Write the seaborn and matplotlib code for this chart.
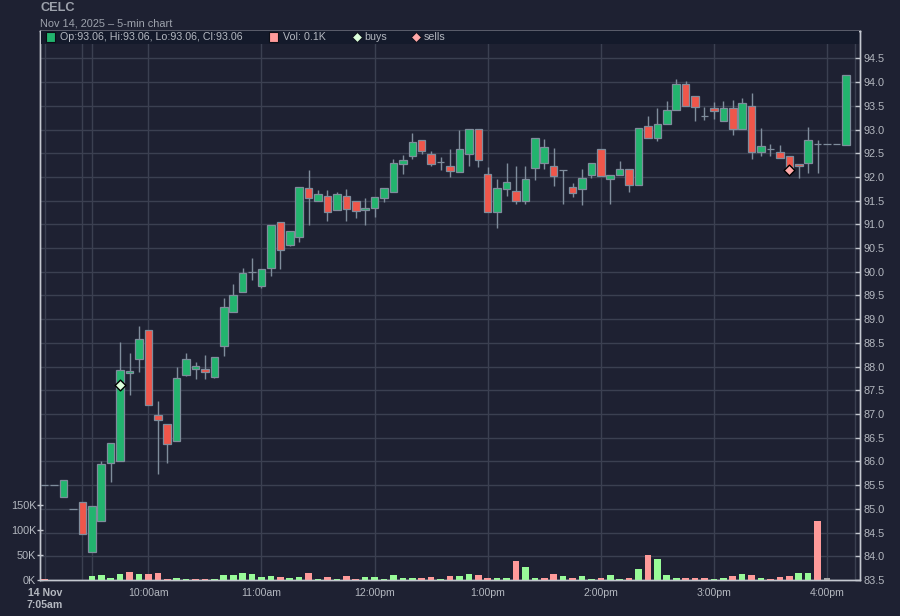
import numpy as np
import pandas as pd
import matplotlib
matplotlib.use("Agg")
import matplotlib.pyplot as plt
import seaborn as sns
from matplotlib.patches import Rectangle
from matplotlib.lines import Line2D

# ---------------- data ----------------
ticker = "CELC"
subtitle = "Nov 14, 2025 \u2013 5-min chart"
legend_ohlc = "Op:93.06, Hi:93.06, Lo:93.06, Cl:93.06"
legend_vol = "Vol: 0.1K"

opens = [85.50, 85.50, 85.24, 85.00, 85.14, 84.10, 84.74, 85.96, 86.02, 87.86,
         88.17, 88.78, 86.99, 86.78, 86.44, 87.83, 87.94, 87.95, 87.78, 88.44,
         89.15, 89.58, 90.00, 89.70, 90.08, 91.06, 90.57, 90.74, 91.76, 91.50,
         91.59, 91.30, 91.59, 91.50, 91.30, 91.35, 91.56, 91.68, 92.27, 92.44,
         92.77, 92.49, 92.31, 92.24, 92.10, 92.48, 93.02, 92.07, 91.25, 91.75,
         91.70, 91.50, 92.18, 92.30, 92.24, 92.14, 91.79, 91.75, 92.05, 92.58,
         91.96, 92.05, 92.16, 91.84, 93.08, 92.83, 93.12, 93.42, 93.95, 93.71,
         93.29, 93.46, 93.18, 93.46, 93.02, 93.50, 92.53, 92.58, 92.53, 92.45,
         92.28, 92.30, 92.70, 92.70, 92.70, 92.68]
highs = [85.50, 85.50, 85.60, 85.00, 85.14, 85.05, 86.01, 86.38, 88.52, 88.29,
         88.85, 88.78, 87.27, 86.78, 87.99, 88.28, 88.09, 88.24, 88.21, 89.44,
         89.74, 90.07, 90.29, 90.05, 90.99, 91.06, 90.87, 91.78, 92.14, 91.72,
         91.72, 91.68, 91.74, 91.50, 91.55, 91.57, 91.76, 92.37, 92.46, 92.92,
         92.77, 92.55, 92.43, 92.58, 93.00, 93.02, 93.02, 92.21, 91.95, 92.29,
         92.22, 92.22, 92.83, 92.79, 92.60, 92.15, 91.87, 92.16, 92.30, 92.58,
         92.04, 92.33, 92.16, 93.04, 93.29, 93.46, 93.61, 94.06, 94.03, 93.71,
         93.48, 93.59, 93.61, 93.63, 93.67, 93.76, 93.04, 92.70, 92.68, 92.45,
         92.28, 93.06, 92.77, 92.70, 92.70, 94.14]
lows = [85.50, 85.50, 85.24, 85.00, 84.48, 84.10, 84.74, 85.57, 86.02, 87.40,
        87.89, 87.18, 85.73, 85.96, 86.44, 87.80, 87.74, 87.74, 87.76, 88.23,
        89.15, 89.58, 89.82, 89.65, 89.91, 90.05, 90.55, 90.63, 90.98, 91.50,
        91.07, 91.30, 91.07, 91.14, 90.99, 91.16, 91.47, 91.68, 92.06, 92.38,
        92.48, 92.24, 92.14, 91.99, 92.10, 92.23, 92.21, 91.25, 90.92, 91.60,
        91.43, 91.43, 91.94, 92.17, 91.81, 91.43, 91.57, 91.41, 91.98, 92.01,
        91.43, 92.05, 91.69, 91.84, 92.83, 92.76, 93.12, 93.42, 93.50, 93.18,
        93.21, 93.23, 93.17, 92.89, 93.02, 92.37, 92.45, 92.45, 92.39, 92.14,
        91.97, 92.09, 92.09, 92.70, 92.70, 92.68]
closes = [85.50, 85.50, 85.60, 85.00, 84.48, 85.05, 85.94, 86.38, 87.92, 87.90,
          88.59, 87.20, 86.87, 86.37, 87.75, 88.17, 88.02, 87.89, 88.21, 89.25,
          89.52, 89.98, 90.00, 90.05, 90.99, 90.46, 90.87, 91.78, 91.56, 91.63,
          91.26, 91.63, 91.32, 91.29, 91.35, 91.57, 91.76, 92.30, 92.35, 92.74,
          92.55, 92.28, 92.31, 92.13, 92.58, 93.02, 92.36, 91.25, 91.76, 91.89,
          91.50, 91.95, 92.83, 92.64, 92.02, 92.14, 91.67, 91.98, 92.30, 92.01,
          92.04, 92.16, 91.84, 93.04, 92.83, 93.12, 93.42, 93.97, 93.50, 93.48,
          93.29, 93.38, 93.46, 93.02, 93.55, 92.53, 92.66, 92.58, 92.39, 92.14,
          92.22, 92.77, 92.70, 92.70, 92.70, 94.14]
volumes_k = [3, 0, 0, 0, 0, 8, 10, 4, 12, 16,
             12, 12, 14, 2, 4, 2, 2, 2, 2, 10,
             10, 14, 12, 6, 8, 6, 4, 6, 14, 2,
             6, 2, 8, 2, 6, 6, 2, 10, 4, 4,
             4, 6, 2, 9, 8, 12, 10, 4, 4, 4,
             38, 26, 4, 4, 12, 8, 4, 8, 2, 4,
             10, 2, 4, 22, 50, 42, 10, 4, 4, 4,
             4, 2, 4, 8, 12, 10, 4, 2, 6, 8,
             14, 14, 118, 4, 0, 0]
prev_session_close = 85.60

buy_idx = [8]
buy_price = [87.62]
sell_idx = [79]
sell_price = [92.14]

x_tick_pos = [0, 11, 23, 35, 47, 59, 71, 83]
x_tick_labels = ["14 Nov\n7:05am", "10:00am", "11:00am", "12:00pm",
                 "1:00pm", "2:00pm", "3:00pm", "4:00pm"]
x_extra_grid = [4, 5, 86]
vol_tick_vals = [0, 50, 100, 150]
vol_tick_labels = ["0K", "50K", "100K", "150K"]

# ---------------- style ----------------
BG = "#1e2132"
BAND = "#141a2b"
GRID = "#3b4051"
SPINE = "#c4c8d0"
TXT = "#b4b8c0"
TITLE = "#9da2ac"
UP = "#22b46e"
DOWN = "#f0564a"
EDGE = "#7f8d9c"
VUP = "#98fb98"
VDOWN = "#ff9a9a"
VFLAT = "#a8a8a8"

sns.set_style("dark", rc={"axes.facecolor": BG, "figure.facecolor": BG})
plt.rcParams["font.family"] = ["Liberation Sans", "DejaVu Sans"]

W, H = 900, 616
def fx(px):
    return px / W
def fy(py):
    return 1 - py / H

fig = plt.figure(figsize=(9, 6.16), dpi=100)
fig.patch.set_facecolor(BG)
ax = fig.add_axes([fx(40), fy(580), (860 - 40) / W, (580 - 30.5) / H])
ax.set_facecolor(BG)

n = len(closes)
idx = np.arange(n)
o = np.array(opens); c = np.array(closes); h = np.array(highs); l = np.array(lows)

# ---------------- candles (price axis) ----------------
ax.vlines(idx, l, h, color=EDGE, linewidth=1.0, zorder=2)
body_bottom = np.minimum(o, c)
body_height = np.abs(c - o)
body_colors = [UP if cc > oo else (DOWN if cc < oo else EDGE) for oo, cc in zip(o, c)]
ax.bar(idx, body_height, bottom=body_bottom, width=0.8, color=body_colors,
       edgecolor=EDGE, linewidth=0.9, zorder=3)

ax.scatter(buy_idx, buy_price, marker="D", s=30, facecolor="#dcffdc",
           edgecolor="black", linewidth=1.0, zorder=6)
ax.scatter(sell_idx, sell_price, marker="D", s=30, facecolor="#ffa8a8",
           edgecolor="black", linewidth=1.0, zorder=6)

ax.set_xlim(-0.5, 86.5)
ax.set_ylim(83.5, 95.088)
ax.set_yticks(np.arange(83.5, 94.51, 0.5))
ax.set_yticklabels([f"{v:.1f}" for v in np.arange(83.5, 94.51, 0.5)])
ax.yaxis.tick_right()
ax.tick_params(axis="y", which="major", direction="in", length=3.5, width=1,
               color=SPINE, labelcolor=TXT, labelsize=7.8, pad=2.5)
ax.set_xticks(x_tick_pos)
ax.set_xticklabels(x_tick_labels, linespacing=1.3)
ax.set_xticks(x_extra_grid, minor=True)
ax.tick_params(axis="x", which="major", direction="out", length=2.5, width=1,
               color=SPINE, labelcolor=TXT, labelsize=7.6, pad=3)
ax.tick_params(axis="x", which="minor", length=0)
ax.get_xticklabels()[0].set_fontweight("bold")
ax.grid(True, axis="y", which="major", color=GRID, linewidth=1.0)
ax.grid(True, axis="x", which="both", color=GRID, linewidth=1.0)
ax.set_axisbelow(True)
for s in ax.spines.values():
    s.set_visible(True)
    s.set_color(SPINE)
    s.set_linewidth(1.0)

# ---------------- volume (seaborn, twin axis) ----------------
axv = ax.twinx()
prev = np.concatenate([[prev_session_close], c[:-1]])
direction = np.where(c > prev, "up", np.where(c < prev, "down", "flat"))
vdf = pd.DataFrame({"idx": idx, "vol": volumes_k, "dir": direction})
sns.barplot(data=vdf, x="idx", y="vol", hue="dir",
            palette={"up": VUP, "down": VDOWN, "flat": VFLAT},
            native_scale=True, width=0.7, dodge=False, errorbar=None,
            saturation=1, linewidth=0, legend=False, ax=axv, zorder=2)
axv.set_xlim(-0.5, 86.5)
axv.set_ylim(0, 1099)
axv.set_xlabel(""); axv.set_ylabel(""); ax.set_xlabel(""); ax.set_ylabel("")
axv.yaxis.tick_left()
axv.set_yticks(vol_tick_vals)
axv.set_yticklabels(vol_tick_labels)
axv.tick_params(axis="y", direction="inout", length=4.3, width=1, color=SPINE,
                labelcolor=TXT, labelsize=7.8, pad=0.5)
axv.grid(False)
for s in axv.spines.values():
    s.set_visible(True)
    s.set_color(SPINE)
    s.set_linewidth(1.0)
ax.yaxis.tick_right()

# ---------------- header & legend band ----------------
fig.text(fx(40.5), fy(10.8), ticker, color=TITLE, fontsize=9.2,
         fontweight="bold", va="baseline", ha="left")
fig.text(fx(40.5), fy(26.8), subtitle, color=TITLE, fontsize=7.9,
         va="baseline", ha="left")

band = Rectangle((fx(40.6), fy(43.6)), (859.4 - 40.6) / W, (43.6 - 31.0) / H,
                 transform=fig.transFigure, facecolor=BAND, edgecolor="none",
                 zorder=5)
fig.add_artist(band)
ymid = 37.4
fig.add_artist(Rectangle((fx(46), fy(42)), 9 / W, 9.5 / H, transform=fig.transFigure,
                         facecolor=UP, edgecolor="#0b0e16", linewidth=0.8, zorder=6))
fig.text(fx(60.5), fy(ymid), legend_ohlc, color=TXT, fontsize=7.7,
         va="center", ha="left", zorder=7)
fig.add_artist(Rectangle((fx(268.5), fy(42)), 9 / W, 9.5 / H, transform=fig.transFigure,
                         facecolor=VDOWN, edgecolor="#0b0e16", linewidth=0.8, zorder=6))
fig.text(fx(283), fy(ymid), legend_vol, color=TXT, fontsize=7.7,
         va="center", ha="left", zorder=7)
fig.add_artist(Line2D([fx(356.5)], [fy(ymid)], marker="D", markersize=4.6,
                      markerfacecolor="#dcffdc", markeredgecolor="#0b0e16",
                      markeredgewidth=0.6, transform=fig.transFigure, zorder=7))
fig.text(fx(364.5), fy(ymid), "buys", color=TXT, fontsize=7.7,
         va="center", ha="left", zorder=7)
fig.add_artist(Line2D([fx(415.5)], [fy(ymid)], marker="D", markersize=4.6,
                      markerfacecolor="#ffa8a8", markeredgecolor="#0b0e16",
                      markeredgewidth=0.6, transform=fig.transFigure, zorder=7))
fig.text(fx(424), fy(ymid), "sells", color=TXT, fontsize=7.7,
         va="center", ha="left", zorder=7)

fig.savefig("out.png", dpi=100, facecolor=BG)
